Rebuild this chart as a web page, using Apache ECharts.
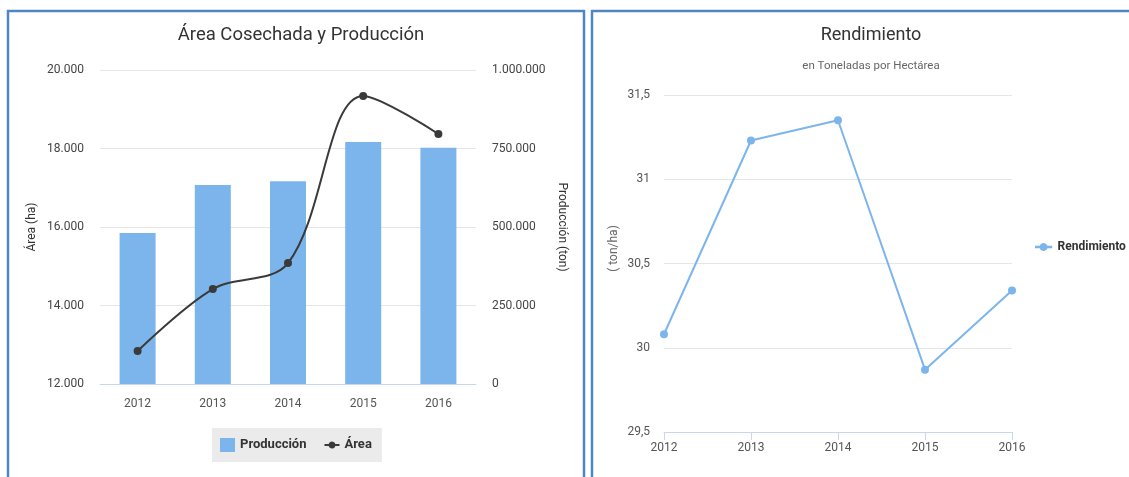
<!DOCTYPE html>
<html>
<head>
    <meta charset="utf-8">
    <title>Área Cosechada, Producción y Rendimiento</title>
    <script src="https://cdn.jsdelivr.net/npm/echarts@6/dist/echarts.min.js"></script>
    <style>
        html, body { margin: 0; padding: 0; background: #fff; }
        #main { width: 1129px; height: 477px; }
    </style>
</head>
<body>
    <div id="main"></div>
    <script type="text/javascript">
        // datos
        var years = ['2012', '2013', '2014', '2015', '2016'];
        var produccion = [481000, 634000, 646000, 771000, 752000];
        var area = [12840, 14420, 15080, 19340, 18370];
        var rendimiento = [30.08, 31.23, 31.35, 29.87, 30.34];

        var FONT = "Roboto, 'Liberation Sans', sans-serif";
        var BLUE = '#7cb5ec';
        var DARK = '#3a3a3a';
        // linea con punto para la leyenda
        var LINE_ICON = 'path://M0,6H4.15A3.5,3.5,0,0,1,10.85,6H15V8H10.85A3.5,3.5,0,0,1,4.15,8H0Z';

        // 12000 -> 12.000
        function miles(v) {
            return String(v).replace(/\B(?=(\d{3})+(?!\d))/g, '.');
        }
        function coma(v) {
            return String(v).replace('.', ',');
        }

        var myChart = echarts.init(document.getElementById('main'));

        var option = {
            textStyle: { fontFamily: FONT },
            animation: false,
            graphic: [
                {
                    type: 'rect',
                    shape: { x: 8, y: 11, width: 576, height: 480 },
                    style: { fill: 'none', stroke: '#4f86c6', lineWidth: 2.5 },
                    silent: true
                },
                {
                    type: 'rect',
                    shape: { x: 592, y: 11, width: 560, height: 480 },
                    style: { fill: 'none', stroke: '#4f86c6', lineWidth: 2.5 },
                    silent: true
                }
            ],
            title: [
                {
                    text: 'Área Cosechada y Producción',
                    left: 296,
                    top: 21,
                    textAlign: 'center',
                    textStyle: { fontFamily: FONT, fontSize: 18.5, fontWeight: 'normal', color: '#333' }
                },
                {
                    text: 'Rendimiento',
                    subtext: 'en Toneladas por Hectárea',
                    left: 866,
                    top: 21,
                    textAlign: 'center',
                    itemGap: 16,
                    textStyle: { fontFamily: FONT, fontSize: 18, fontWeight: 'normal', color: '#333' },
                    subtextStyle: { fontFamily: FONT, fontSize: 11.5, color: '#666' }
                }
            ],
            legend: [
                {
                    data: [
                        { name: 'Producción', icon: 'rect' },
                        { name: 'Área', icon: LINE_ICON }
                    ],
                    left: 212,
                    top: 428,
                    padding: [10, 10, 10, 8],
                    backgroundColor: '#ebebeb',
                    itemWidth: 15,
                    itemHeight: 14,
                    itemGap: 18,
                    textStyle: { fontFamily: FONT, fontSize: 13, fontWeight: 'bold', color: '#333' }
                },
                {
                    data: [{ name: 'Rendimiento', icon: LINE_ICON }],
                    orient: 'vertical',
                    left: 1030,
                    top: 236,
                    itemWidth: 18,
                    itemHeight: 8,
                    itemGap: 4,
                    textStyle: { fontFamily: FONT, fontSize: 12, fontWeight: 'bold', color: '#333' }
                }
            ],
            grid: [
                { left: 100, right: 653, top: 70, bottom: 93 },
                { left: 664, right: 117, top: 95, bottom: 45 }
            ],
            xAxis: [
                {
                    type: 'category',
                    gridIndex: 0,
                    data: years,
                    axisLine: { lineStyle: { color: '#ccd6eb' } },
                    axisTick: { show: false },
                    axisLabel: { color: '#555', fontSize: 12, margin: 14, fontFamily: FONT }
                },
                {
                    type: 'category',
                    gridIndex: 1,
                    data: years,
                    boundaryGap: false,
                    axisLine: { lineStyle: { color: '#ccd6eb' } },
                    axisTick: { show: true, length: 8, lineStyle: { color: '#ccd6eb' } },
                    axisLabel: { color: '#555', fontSize: 12, margin: 10, fontFamily: FONT }
                }
            ],
            yAxis: [
                {
                    type: 'value',
                    gridIndex: 0,
                    min: 12000,
                    max: 20000,
                    interval: 2000,
                    name: 'Área (ha)',
                    nameLocation: 'middle',
                    nameGap: 62,
                    nameTextStyle: { color: '#333', fontSize: 12, fontFamily: FONT },
                    axisLine: { show: false },
                    axisTick: { show: false },
                    splitLine: { lineStyle: { color: '#e6e6e6' } },
                    axisLabel: { color: '#444', fontSize: 12, margin: 16, fontFamily: FONT, formatter: miles }
                },
                {
                    type: 'value',
                    gridIndex: 0,
                    position: 'right',
                    min: 0,
                    max: 1000000,
                    interval: 250000,
                    name: 'Producción (ton)',
                    nameLocation: 'middle',
                    nameRotate: -90,
                    nameGap: 80,
                    nameTextStyle: { color: '#333', fontSize: 12, fontFamily: FONT },
                    axisLine: { show: false },
                    axisTick: { show: false },
                    splitLine: { show: false },
                    axisLabel: { color: '#444', fontSize: 12, margin: 16, fontFamily: FONT, formatter: miles }
                },
                {
                    type: 'value',
                    gridIndex: 1,
                    min: 29.5,
                    max: 31.5,
                    interval: 0.5,
                    name: '( ton/ha)',
                    nameLocation: 'middle',
                    nameGap: 44,
                    nameTextStyle: { color: '#666', fontSize: 12, fontFamily: FONT, padding: [0, 0, 0, 30] },
                    axisLine: { show: false },
                    axisTick: { show: false },
                    splitLine: { lineStyle: { color: '#e6e6e6' } },
                    axisLabel: { color: '#555', fontSize: 12, margin: 14, fontFamily: FONT, formatter: coma }
                }
            ],
            series: [
                {
                    name: 'Producción',
                    type: 'bar',
                    xAxisIndex: 0,
                    yAxisIndex: 1,
                    data: produccion,
                    barWidth: 36,
                    itemStyle: { color: BLUE }
                },
                {
                    name: 'Área',
                    type: 'line',
                    xAxisIndex: 0,
                    yAxisIndex: 0,
                    data: area,
                    smooth: 0.35,
                    symbol: 'circle',
                    symbolSize: 8,
                    lineStyle: { color: DARK, width: 2 },
                    itemStyle: { color: DARK }
                },
                {
                    name: 'Rendimiento',
                    type: 'line',
                    xAxisIndex: 1,
                    yAxisIndex: 2,
                    data: rendimiento,
                    symbol: 'circle',
                    symbolSize: 8,
                    lineStyle: { color: BLUE, width: 2 },
                    itemStyle: { color: BLUE }
                }
            ]
        };

        myChart.setOption(option);
    </script>
</body>
</html>
